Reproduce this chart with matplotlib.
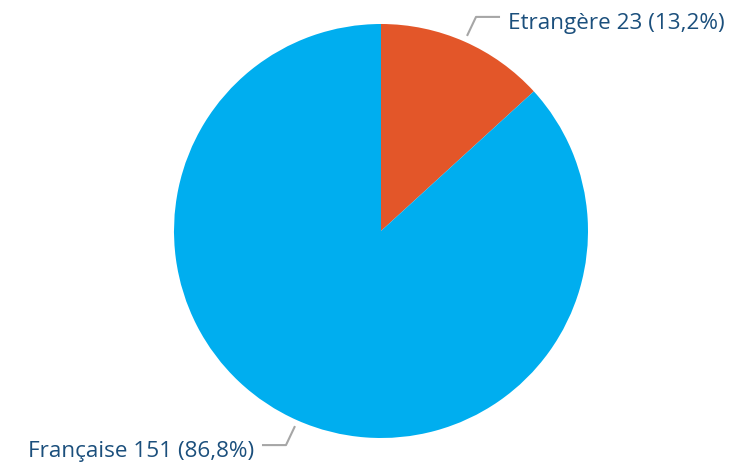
import numpy as np
import matplotlib as mpl
mpl.use('agg')
import matplotlib.pyplot as plt

labels = ['Etrangère', 'Française']
counts = [23, 151]
pcts = ['13,2%', '86,8%']
colors = ['#E35629', '#00AEEF']

txt_color = '#1B4F7C'
line_color = '#A6A6A6'

W, H = 756, 462
cx, cy, R = 381, 231, 207

fig = plt.figure(figsize=(W/100, H/100), dpi=100)
ax = fig.add_axes([0, 0, 1, 1])

wedges, _ = ax.pie(counts, colors=colors, startangle=90, counterclock=False,
                   center=(cx, cy), radius=R,
                   wedgeprops=dict(linewidth=0))
# pie resets the limits, so set them afterwards
ax.set_xlim(0, W)
ax.set_ylim(0, H)
ax.set_aspect('equal')
ax.axis('off')

for w, lab, n, p in zip(wedges, labels, counts, pcts):
    ang = np.deg2rad((w.theta1 + w.theta2)/2)
    dx, dy = np.cos(ang), np.sin(ang)
    sx = 1 if dx > 0 else -1
    sy = 1 if dy > 0 else -1
    p0 = (cx + 1.03*R*dx, cy + 1.03*R*dy)
    p1 = (p0[0] + 9*sx, p0[1] + 19*sy)
    p2 = (p1[0] + 24*sx, p1[1])
    ax.plot([p0[0], p1[0], p2[0]], [p0[1], p1[1], p2[1]],
            color=line_color, lw=1.5, solid_capstyle='butt')
    ax.text(p2[0] + 8*sx, p2[1] - 12, f'{lab} {n} ({p})',
            ha='left' if sx > 0 else 'right', va='baseline',
            fontsize=16.2, color=txt_color, family='Open Sans')

fig.savefig('out.png', dpi=100, facecolor='w')
